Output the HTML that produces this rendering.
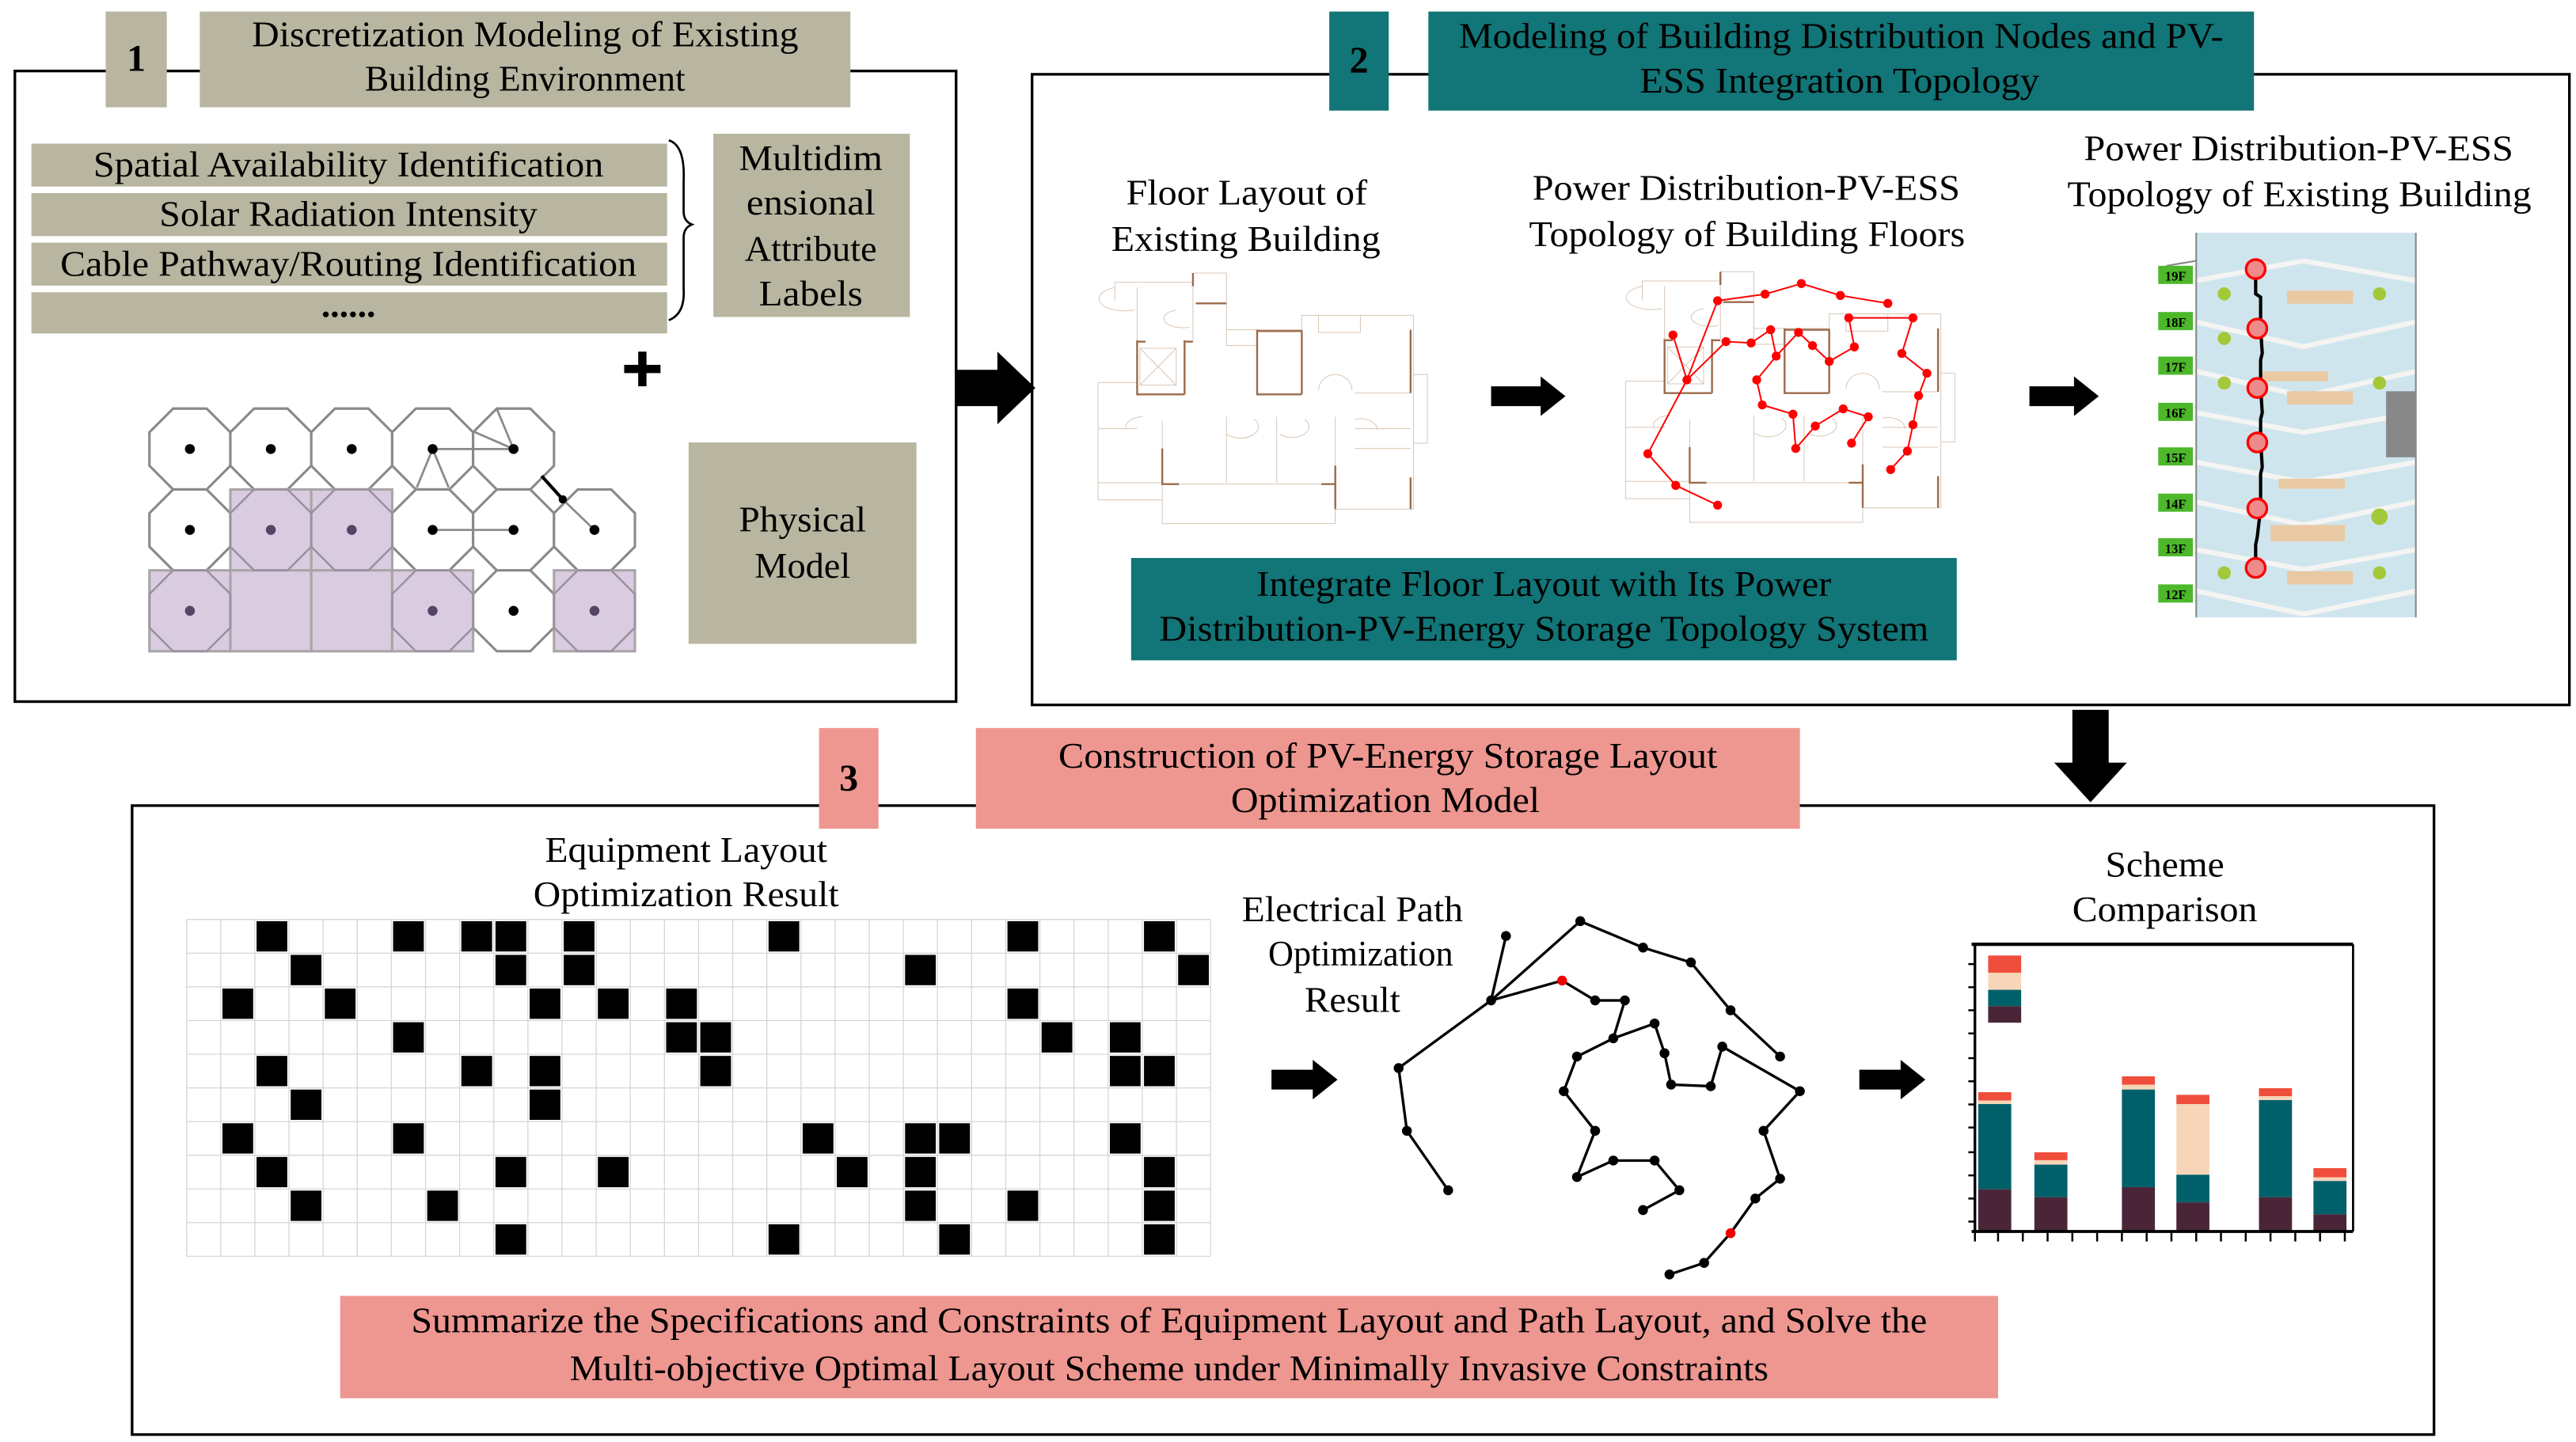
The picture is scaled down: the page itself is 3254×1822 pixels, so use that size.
<!DOCTYPE html>
<html><head><meta charset="utf-8"><style>
html,body{margin:0;padding:0;background:#fff}
svg{display:block}
text{font-family:"Liberation Serif",serif;fill:#000}
</style></head><body>
<svg width="3254" height="1822" viewBox="0 0 1560 873.5" preserveAspectRatio="none" xmlns="http://www.w3.org/2000/svg">
<rect x="0" y="0" width="1560" height="873.5" fill="#fff"/>
<!-- Frames -->
<rect x="9" y="43" width="570" height="382" fill="none" stroke="#000" stroke-width="1.6"/>
<rect x="625" y="45" width="931" height="382" fill="none" stroke="#000" stroke-width="1.6"/>
<rect x="80" y="488" width="1394" height="381" fill="none" stroke="#000" stroke-width="1.6"/>

<!-- Section 1 headers -->
<rect x="64" y="7" width="37" height="58" fill="#b8b6a0"/>
<text x="82.5" y="43" font-size="23" text-anchor="middle" font-weight="bold">1</text>
<rect x="121" y="7" width="394" height="58" fill="#b8b6a0"/>
<g font-size="22" text-anchor="middle">
<text x="318" y="28" textLength="331" lengthAdjust="spacingAndGlyphs">Discretization Modeling of Existing</text>
<text x="318" y="55" textLength="194" lengthAdjust="spacingAndGlyphs">Building Environment</text>
</g>

<g fill="#b8b6a0">
<rect x="19" y="87" width="385" height="26"/>
<rect x="19" y="117" width="385" height="26"/>
<rect x="19" y="147" width="385" height="26"/>
<rect x="19" y="177" width="385" height="25"/>
<rect x="432" y="81" width="119" height="111"/>
<rect x="417" y="268" width="138" height="122"/>
</g>
<g font-size="22" text-anchor="middle">
<text x="211" y="107" textLength="309" lengthAdjust="spacingAndGlyphs">Spatial Availability Identification</text>
<text x="211" y="137" textLength="229" lengthAdjust="spacingAndGlyphs">Solar Radiation Intensity</text>
<text x="211" y="167" textLength="349" lengthAdjust="spacingAndGlyphs">Cable Pathway/Routing Identification</text>
<text x="211" y="192" font-weight="bold">......</text>
<text x="491" y="103" textLength="87" lengthAdjust="spacingAndGlyphs">Multidim</text>
<text x="491" y="130" textLength="78" lengthAdjust="spacingAndGlyphs">ensional</text>
<text x="491" y="158" textLength="80" lengthAdjust="spacingAndGlyphs">Attribute</text>
<text x="491" y="185" textLength="63" lengthAdjust="spacingAndGlyphs">Labels</text>
<text x="486" y="322" textLength="77" lengthAdjust="spacingAndGlyphs">Physical</text>
<text x="486" y="350" textLength="58" lengthAdjust="spacingAndGlyphs">Model</text>
</g>
<path d="M405,85 Q415,88 414,110 L414,128 Q414,134 419,136 Q414,138 414,144 L414,175 Q415,190 405,194" fill="none" stroke="#000" stroke-width="1.3"/>
<rect x="378" y="221" width="22" height="5" fill="#000"/>
<rect x="386.5" y="213" width="5" height="21" fill="#000"/>

<!-- Octagon grid -->
<defs>
<polygon id="oct" points="10.15,-24.5 24.5,-10.15 24.5,10.15 10.15,24.5 -10.15,24.5 -24.5,10.15 -24.5,-10.15 -10.15,-24.5"/>
</defs>
<g fill="#fff" stroke="#8a8a8a" stroke-width="1.5">
<use href="#oct" x="115" y="272"/><use href="#oct" x="164" y="272"/><use href="#oct" x="213" y="272"/><use href="#oct" x="262" y="272"/><use href="#oct" x="311" y="272"/>
<use href="#oct" x="115" y="321"/><use href="#oct" x="262" y="321"/><use href="#oct" x="311" y="321"/><use href="#oct" x="360" y="321"/>
<use href="#oct" x="311" y="370"/>
</g>
<g fill="#d9cce0" stroke="#a8a5a8" stroke-width="1.5">
<rect x="139.5" y="296.5" width="49" height="49"/><rect x="188.5" y="296.5" width="49" height="49"/>
<rect x="90.5" y="345.5" width="49" height="49"/><rect x="139.5" y="345.5" width="49" height="49"/><rect x="188.5" y="345.5" width="49" height="49"/><rect x="237.5" y="345.5" width="49" height="49"/><rect x="335.5" y="345.5" width="49" height="49"/>
</g>
<g fill="none" stroke="#9a90a0" stroke-width="1.2">
<use href="#oct" x="164" y="321"/><use href="#oct" x="213" y="321"/>
<use href="#oct" x="115" y="370"/><use href="#oct" x="262" y="370"/><use href="#oct" x="360" y="370"/>
</g>
<g stroke="#8a8a8a" stroke-width="1.3" fill="none">
<line x1="262" y1="272" x2="311" y2="272"/>
<polyline points="252.4,295.3 262,272 271.7,295.3"/>
<polyline points="300.6,247 311,272 287,261.5"/>
<line x1="262" y1="321" x2="311" y2="321"/>
<line x1="340.8" y1="302.5" x2="360" y2="321"/>
</g>
<line x1="328" y1="288.3" x2="340.8" y2="302.5" stroke="#000" stroke-width="2"/>
<g fill="#000">
<circle cx="115" cy="272" r="3"/><circle cx="164" cy="272" r="3"/><circle cx="213" cy="272" r="3"/><circle cx="262" cy="272" r="3"/><circle cx="311" cy="272" r="3"/>
<circle cx="115" cy="321" r="3"/><circle cx="262" cy="321" r="3"/><circle cx="311" cy="321" r="3"/><circle cx="360" cy="321" r="3"/><circle cx="311" cy="370" r="3"/><circle cx="340.8" cy="302.5" r="2.5"/>
</g>
<g fill="#554466">
<circle cx="164" cy="321" r="3"/><circle cx="213" cy="321" r="3"/><circle cx="115" cy="370" r="3"/><circle cx="262" cy="370" r="3"/><circle cx="360" cy="370" r="3"/>
</g>

<!-- Big right arrow -->
<polygon points="579,224 604,224 604,213 627,235 604,257 604,246 579,246" fill="#000"/>

<!-- Section 2 headers -->
<rect x="805" y="7" width="36" height="60" fill="#127577"/>
<text x="823" y="44" font-size="23" text-anchor="middle" font-weight="bold">2</text>
<rect x="865" y="7" width="500" height="60" fill="#127577"/>
<g font-size="22" text-anchor="middle">
<text x="1115" y="29" textLength="463" lengthAdjust="spacingAndGlyphs">Modeling of Building Distribution Nodes and PV-</text>
<text x="1114" y="56" textLength="242" lengthAdjust="spacingAndGlyphs">ESS Integration Topology</text>
<text x="755" y="124" textLength="146" lengthAdjust="spacingAndGlyphs">Floor Layout of</text>
<text x="754.5" y="152" textLength="163" lengthAdjust="spacingAndGlyphs">Existing Building</text>
<text x="1057.5" y="121" textLength="259" lengthAdjust="spacingAndGlyphs">Power Distribution-PV-ESS</text>
<text x="1058" y="149" textLength="264" lengthAdjust="spacingAndGlyphs">Topology of Building Floors</text>
<text x="1392" y="97" textLength="260" lengthAdjust="spacingAndGlyphs">Power Distribution-PV-ESS</text>
<text x="1392.5" y="125" textLength="281" lengthAdjust="spacingAndGlyphs">Topology of Existing Building</text>
</g>

<!-- Floor plans -->
<defs>
<g id="plan">
<g fill="none" stroke="#d8c6b6" stroke-width="1">
<path vector-effect="non-scaling-stroke" d="M10,460 L80,460 M10,460 L10,905 L125,905 M125,840 L125,995 L435,995 L435,940 L575,940 L575,205 L375,205 L375,260 L240,260 L240,45 L180,45 M180,80 L40,80 L40,150 M80,300 L80,100 M180,95 L180,300 M240,320 L295,320"/>
<path vector-effect="non-scaling-stroke" d="M10,840 L125,840 M435,940 L435,990 M575,430 L600,430 L600,690 L575,690 M405,205 L405,270 L480,270 L480,205 M240,260 L240,320 M165,505 L165,300 M125,605 L125,710 M240,590 L240,840 M330,590 L330,840 M435,590 L435,775 M125,845 L435,845 M470,500 L570,500 M470,635 L570,635 M470,710 L570,710 M10,635 L80,635"/>
<path vector-effect="non-scaling-stroke" d="M40,100 A40,40 0 0 0 75,185 M150,185 A30,30 0 0 0 175,250 M405,490 A30,60 0 0 1 465,490 M60,635 A30,40 0 0 1 90,590 M240,655 A30,40 0 0 0 290,600 M335,655 A30,40 0 0 0 380,600 M470,600 A30,40 0 0 1 510,640"/>
<path vector-effect="non-scaling-stroke" d="M85,330 L150,470 M150,330 L85,470 M85,330 L150,330 L150,470 L85,470 Z"/>
</g>
<g fill="none" stroke="#9b6b4b" stroke-width="2.4">
<path vector-effect="non-scaling-stroke" d="M180,45 L180,95 M185,160 L240,160 M80,300 L80,505 L165,505 M165,300 L165,505 M295,260 L295,505 L375,505 M295,265 L375,265 L375,505 M125,710 L125,845 L155,845 M435,775 L435,940 M570,260 L570,500 M570,820 L570,940 M410,845 L435,845 M80,305 L95,305 M165,305 L180,305"/>
</g>
</g>
</defs>
<g transform="translate(661.6,158.2) scale(0.338,0.1598)"><use href="#plan"/></g>
<g transform="translate(661.6,158.2) scale(0.338,0.1598)">
<g transform="translate(945,-5)"><use href="#plan"/></g>
<g fill="none" stroke="#f00" stroke-width="2" stroke-linejoin="round">
<polyline vector-effect="non-scaling-stroke" points="1120,925 1045,850 995,730 1065,450 1120,150 1205,125 1270,85 1340,130 1425,160"/>
<polyline vector-effect="non-scaling-stroke" points="1040,280 1065,450 1135,305 1180,310 1215,260 1225,360 1265,270 1290,320 1320,380 1365,325 1355,215 1470,215 1450,350 1495,425 1480,510 1470,620 1460,720 1430,790"/>
<polyline vector-effect="non-scaling-stroke" points="1225,360 1190,450 1200,545 1255,580 1260,710 1295,625 1345,560 1390,590 1360,690"/>
</g>
<g fill="#f00">
<ellipse cx="1120" cy="925" rx="8" ry="17"/><ellipse cx="1045" cy="850" rx="8" ry="17"/><ellipse cx="995" cy="730" rx="8" ry="17"/><ellipse cx="1065" cy="450" rx="8" ry="17"/><ellipse cx="1120" cy="150" rx="8" ry="17"/><ellipse cx="1205" cy="125" rx="8" ry="17"/><ellipse cx="1270" cy="85" rx="8" ry="17"/><ellipse cx="1340" cy="130" rx="8" ry="17"/><ellipse cx="1425" cy="160" rx="8" ry="17"/>
<ellipse cx="1040" cy="280" rx="8" ry="17"/><ellipse cx="1135" cy="305" rx="8" ry="17"/><ellipse cx="1180" cy="310" rx="8" ry="17"/><ellipse cx="1215" cy="260" rx="8" ry="17"/><ellipse cx="1225" cy="360" rx="8" ry="17"/><ellipse cx="1265" cy="270" rx="8" ry="17"/><ellipse cx="1290" cy="320" rx="8" ry="17"/><ellipse cx="1320" cy="380" rx="8" ry="17"/><ellipse cx="1365" cy="325" rx="8" ry="17"/><ellipse cx="1355" cy="215" rx="8" ry="17"/><ellipse cx="1470" cy="215" rx="8" ry="17"/><ellipse cx="1450" cy="350" rx="8" ry="17"/><ellipse cx="1495" cy="425" rx="8" ry="17"/><ellipse cx="1480" cy="510" rx="8" ry="17"/><ellipse cx="1470" cy="620" rx="8" ry="17"/><ellipse cx="1460" cy="720" rx="8" ry="17"/><ellipse cx="1430" cy="790" rx="8" ry="17"/>
<ellipse cx="1190" cy="450" rx="8" ry="17"/><ellipse cx="1200" cy="545" rx="8" ry="17"/><ellipse cx="1255" cy="580" rx="8" ry="17"/><ellipse cx="1260" cy="710" rx="8" ry="17"/><ellipse cx="1295" cy="625" rx="8" ry="17"/><ellipse cx="1345" cy="560" rx="8" ry="17"/><ellipse cx="1390" cy="590" rx="8" ry="17"/><ellipse cx="1360" cy="690" rx="8" ry="17"/>
</g>
</g>
<polygon points="903,234 933,234 933,228 948,240 933,252 933,246 903,246" fill="#000"/>
<polygon points="1229,234 1256,234 1256,228 1271,240 1256,252 1256,246 1229,246" fill="#000"/>

<!-- Building -->
<rect x="1330" y="141" width="133" height="233" fill="#cfe5ee"/>
<g stroke="#f4f4f2" stroke-width="3" fill="none">
<polyline points="1330,170 1395,158 1463,170"/>
<polyline points="1330,195 1395,210 1463,195"/>
<polyline points="1330,225 1395,240 1463,225"/>
<polyline points="1330,250 1395,262 1463,250"/>
<polyline points="1330,280 1395,292 1463,280"/>
<polyline points="1330,304 1395,318 1463,304"/>
<polyline points="1330,333 1395,345 1463,333"/>
<polyline points="1330,358 1395,372 1463,358"/>
</g>
<g fill="#e9c9a3">
<rect x="1385" y="176" width="40" height="8"/><rect x="1370" y="225" width="40" height="6"/><rect x="1385" y="237" width="40" height="8"/><rect x="1380" y="290" width="40" height="6"/><rect x="1375" y="318" width="45" height="10"/><rect x="1385" y="346" width="40" height="8"/>
</g>
<rect x="1445" y="237" width="18" height="40" fill="#888"/>
<g fill="#a3c93a"><circle cx="1347" cy="178" r="4"/><circle cx="1441" cy="178" r="4"/><circle cx="1347" cy="205" r="4"/><circle cx="1347" cy="232" r="4"/><circle cx="1441" cy="232" r="4"/><circle cx="1441" cy="313" r="5"/><circle cx="1347" cy="347" r="4"/><circle cx="1441" cy="347" r="4"/></g>
<line x1="1330" y1="141" x2="1330" y2="374" stroke="#888" stroke-width="1"/>
<line x1="1463" y1="141" x2="1463" y2="374" stroke="#888" stroke-width="1"/>
<line x1="1312" y1="161" x2="1330" y2="158" stroke="#888" stroke-width="1"/>
<g fill="#4cb82a">
<rect x="1307" y="161" width="21" height="11"/><rect x="1307" y="189" width="21" height="11"/><rect x="1307" y="216" width="21" height="11"/><rect x="1307" y="244" width="21" height="11"/><rect x="1307" y="271" width="21" height="11"/><rect x="1307" y="299" width="21" height="11"/><rect x="1307" y="326" width="21" height="11"/><rect x="1307" y="354" width="21" height="11"/>
</g>
<g font-size="8" text-anchor="middle" font-weight="bold" style="font-family:'Liberation Sans',sans-serif">
<text x="1317.5" y="170" fill="#fff">19F</text><text x="1317.5" y="198" fill="#fff">18F</text><text x="1317.5" y="225" fill="#fff">17F</text><text x="1317.5" y="253" fill="#fff">16F</text><text x="1317.5" y="280" fill="#fff">15F</text><text x="1317.5" y="308" fill="#fff">14F</text><text x="1317.5" y="335" fill="#fff">13F</text><text x="1317.5" y="363" fill="#fff">12F</text>
</g>
<polyline points="1366,163 1366,178 1369,180 1369,199 1370,214 1369,218 1369,235 1370,250 1369,254 1369,267 1370,283 1369,287 1369,308 1367,325 1366,330 1366,344" fill="none" stroke="#000" stroke-width="2"/>
<g fill="#ef8a8a" stroke="#f00" stroke-width="1.6">
<circle cx="1366" cy="163" r="5.8"/><circle cx="1367" cy="199" r="5.8"/><circle cx="1367" cy="235" r="5.8"/><circle cx="1367" cy="268" r="5.8"/><circle cx="1367" cy="308" r="5.8"/><circle cx="1366" cy="344" r="5.8"/>
</g>

<rect x="685" y="338" width="500" height="62" fill="#127577"/>
<text x="935" y="361" font-size="22" text-anchor="middle" textLength="348" lengthAdjust="spacingAndGlyphs">Integrate Floor Layout with Its Power</text>
<text x="935" y="388" font-size="22" text-anchor="middle" textLength="466" lengthAdjust="spacingAndGlyphs">Distribution-PV-Energy Storage Topology System</text>

<!-- Down arrow -->
<polygon points="1255,430 1277,430 1277,462 1288,462 1266,486 1244,462 1255,462" fill="#000"/>

<!-- Section 3 headers -->
<rect x="496" y="441" width="36" height="61" fill="#ee9690"/>
<text x="514" y="479" font-size="23" text-anchor="middle" font-weight="bold">3</text>
<rect x="591" y="441" width="499" height="61" fill="#ee9690"/>
<g font-size="22" text-anchor="middle">
<text x="840.5" y="465" textLength="399" lengthAdjust="spacingAndGlyphs">Construction of PV-Energy Storage Layout</text>
<text x="839" y="492" textLength="187" lengthAdjust="spacingAndGlyphs">Optimization Model</text>
<text x="415.5" y="522" textLength="171" lengthAdjust="spacingAndGlyphs">Equipment Layout</text>
<text x="415.5" y="549" textLength="185" lengthAdjust="spacingAndGlyphs">Optimization Result</text>
<text x="819" y="558" textLength="134" lengthAdjust="spacingAndGlyphs">Electrical Path</text>
<text x="824" y="585" textLength="112" lengthAdjust="spacingAndGlyphs">Optimization</text>
<text x="819" y="613" textLength="58" lengthAdjust="spacingAndGlyphs">Result</text>
<text x="1311" y="531" textLength="72" lengthAdjust="spacingAndGlyphs">Scheme</text>
<text x="1311" y="558" textLength="112" lengthAdjust="spacingAndGlyphs">Comparison</text>
</g>

<!-- Equipment grid -->
<g transform="translate(113,557) scale(20.67,20.4)">
<rect x="0" y="0" width="30" height="10" fill="#fff"/>
<g fill="#000">
<rect x="2.05" y="0.05" width="0.9" height="0.9"/><rect x="6.05" y="0.05" width="0.9" height="0.9"/><rect x="8.05" y="0.05" width="0.9" height="0.9"/><rect x="9.05" y="0.05" width="0.9" height="0.9"/><rect x="11.05" y="0.05" width="0.9" height="0.9"/><rect x="17.05" y="0.05" width="0.9" height="0.9"/><rect x="24.05" y="0.05" width="0.9" height="0.9"/><rect x="28.05" y="0.05" width="0.9" height="0.9"/>
<rect x="3.05" y="1.05" width="0.9" height="0.9"/><rect x="9.05" y="1.05" width="0.9" height="0.9"/><rect x="11.05" y="1.05" width="0.9" height="0.9"/><rect x="21.05" y="1.05" width="0.9" height="0.9"/><rect x="29.05" y="1.05" width="0.9" height="0.9"/>
<rect x="1.05" y="2.05" width="0.9" height="0.9"/><rect x="4.05" y="2.05" width="0.9" height="0.9"/><rect x="10.05" y="2.05" width="0.9" height="0.9"/><rect x="12.05" y="2.05" width="0.9" height="0.9"/><rect x="14.05" y="2.05" width="0.9" height="0.9"/><rect x="24.05" y="2.05" width="0.9" height="0.9"/>
<rect x="6.05" y="3.05" width="0.9" height="0.9"/><rect x="14.05" y="3.05" width="0.9" height="0.9"/><rect x="15.05" y="3.05" width="0.9" height="0.9"/><rect x="25.05" y="3.05" width="0.9" height="0.9"/><rect x="27.05" y="3.05" width="0.9" height="0.9"/>
<rect x="2.05" y="4.05" width="0.9" height="0.9"/><rect x="8.05" y="4.05" width="0.9" height="0.9"/><rect x="10.05" y="4.05" width="0.9" height="0.9"/><rect x="15.05" y="4.05" width="0.9" height="0.9"/><rect x="27.05" y="4.05" width="0.9" height="0.9"/><rect x="28.05" y="4.05" width="0.9" height="0.9"/>
<rect x="3.05" y="5.05" width="0.9" height="0.9"/><rect x="10.05" y="5.05" width="0.9" height="0.9"/>
<rect x="1.05" y="6.05" width="0.9" height="0.9"/><rect x="6.05" y="6.05" width="0.9" height="0.9"/><rect x="18.05" y="6.05" width="0.9" height="0.9"/><rect x="21.05" y="6.05" width="0.9" height="0.9"/><rect x="22.05" y="6.05" width="0.9" height="0.9"/><rect x="27.05" y="6.05" width="0.9" height="0.9"/>
<rect x="2.05" y="7.05" width="0.9" height="0.9"/><rect x="9.05" y="7.05" width="0.9" height="0.9"/><rect x="12.05" y="7.05" width="0.9" height="0.9"/><rect x="19.05" y="7.05" width="0.9" height="0.9"/><rect x="21.05" y="7.05" width="0.9" height="0.9"/><rect x="28.05" y="7.05" width="0.9" height="0.9"/>
<rect x="3.05" y="8.05" width="0.9" height="0.9"/><rect x="7.05" y="8.05" width="0.9" height="0.9"/><rect x="21.05" y="8.05" width="0.9" height="0.9"/><rect x="24.05" y="8.05" width="0.9" height="0.9"/><rect x="28.05" y="8.05" width="0.9" height="0.9"/>
<rect x="9.05" y="9.05" width="0.9" height="0.9"/><rect x="17.05" y="9.05" width="0.9" height="0.9"/><rect x="22.05" y="9.05" width="0.9" height="0.9"/><rect x="28.05" y="9.05" width="0.9" height="0.9"/>
</g>
<g stroke="#d6d6d6" stroke-width="1.3" fill="none">
<path vector-effect="non-scaling-stroke" d="M0,0H30M0,1H30M0,2H30M0,3H30M0,4H30M0,5H30M0,6H30M0,7H30M0,8H30M0,9H30M0,10H30"/>
<path vector-effect="non-scaling-stroke" d="M0,0V10M1,0V10M2,0V10M3,0V10M4,0V10M5,0V10M6,0V10M7,0V10M8,0V10M9,0V10M10,0V10M11,0V10M12,0V10M13,0V10M14,0V10M15,0V10M16,0V10M17,0V10M18,0V10M19,0V10M20,0V10M21,0V10M22,0V10M23,0V10M24,0V10M25,0V10M26,0V10M27,0V10M28,0V10M29,0V10M30,0V10"/>
</g>
</g>

<polygon points="770,648 795,648 795,642 810,654 795,666 795,660 770,660" fill="#000"/>
<polygon points="1126,648 1151,648 1151,642 1166,654 1151,666 1151,660 1126,660" fill="#000"/>

<!-- Path graph -->
<g stroke="#000" stroke-width="1.6" fill="none">
<polyline points="912,567 903,606"/>
<polyline points="903,606 957,558 995,574 1024,583 1048,612 1078,640"/>
<polyline points="903,606 946,594 966,606 984,606 977,629 1002,620 1008,638 1012,657 1036,658 1043,634 1090,661 1068,685 1078,714 1063,726 1048,747 1032,765 1011,772"/>
<polyline points="977,629 955,640 947,661 966,685 955,713 977,703 1002,703 1017,721 995,733"/>
<polyline points="903,606 847,647 852,685 877,721"/>
</g>
<g fill="#000">
<circle cx="957" cy="558" r="3"/><circle cx="912" cy="567" r="3"/><circle cx="903" cy="606" r="3"/><circle cx="966" cy="606" r="3"/><circle cx="984" cy="606" r="3"/><circle cx="995" cy="574" r="3"/><circle cx="1024" cy="583" r="3"/><circle cx="1048" cy="612" r="3"/><circle cx="1078" cy="640" r="3"/><circle cx="1002" cy="620" r="3"/><circle cx="977" cy="629" r="3"/><circle cx="955" cy="640" r="3"/><circle cx="1008" cy="638" r="3"/><circle cx="1012" cy="657" r="3"/><circle cx="1036" cy="658" r="3"/><circle cx="1043" cy="634" r="3"/><circle cx="1090" cy="661" r="3"/><circle cx="947" cy="661" r="3"/><circle cx="966" cy="685" r="3"/><circle cx="955" cy="713" r="3"/><circle cx="977" cy="703" r="3"/><circle cx="1002" cy="703" r="3"/><circle cx="1017" cy="721" r="3"/><circle cx="995" cy="733" r="3"/><circle cx="1068" cy="685" r="3"/><circle cx="1078" cy="714" r="3"/><circle cx="1063" cy="726" r="3"/><circle cx="1032" cy="765" r="3"/><circle cx="1011" cy="772" r="3"/><circle cx="847" cy="647" r="3"/><circle cx="852" cy="685" r="3"/><circle cx="877" cy="721" r="3"/>
</g>
<circle cx="946" cy="594" r="3" fill="#e00"/><circle cx="1048" cy="747" r="3" fill="#e00"/>

<!-- Chart -->
<g>
<rect x="1204" y="578.8" width="20" height="10.4" fill="#f04e3c"/><rect x="1204" y="589.2" width="20" height="10.4" fill="#f6d5b8"/><rect x="1204" y="599.6" width="20" height="9.9" fill="#00606a"/><rect x="1204" y="609.5" width="20" height="10" fill="#4a2538"/>
<rect x="1198" y="661.6" width="20" height="5.1" fill="#f04e3c"/><rect x="1198" y="666.7" width="20" height="2.1" fill="#f6d5b8"/><rect x="1198" y="668.8" width="20" height="51.6" fill="#00606a"/><rect x="1198" y="720.4" width="20" height="25.1" fill="#4a2538"/>
<rect x="1232" y="698" width="20" height="4.8" fill="#f04e3c"/><rect x="1232" y="702.8" width="20" height="2.7" fill="#f6d5b8"/><rect x="1232" y="705.5" width="20" height="19.7" fill="#00606a"/><rect x="1232" y="725.2" width="20" height="20.3" fill="#4a2538"/>
<rect x="1285" y="652" width="20" height="5.1" fill="#f04e3c"/><rect x="1285" y="657.1" width="20" height="2.9" fill="#f6d5b8"/><rect x="1285" y="660" width="20" height="59.1" fill="#00606a"/><rect x="1285" y="719.1" width="20" height="26.4" fill="#4a2538"/>
<rect x="1318" y="663.2" width="20" height="5.6" fill="#f04e3c"/><rect x="1318" y="668.8" width="20" height="42.8" fill="#f6d5b8"/><rect x="1318" y="711.6" width="20" height="16.8" fill="#00606a"/><rect x="1318" y="728.4" width="20" height="17.1" fill="#4a2538"/>
<rect x="1368" y="659.2" width="20" height="4.8" fill="#f04e3c"/><rect x="1368" y="664" width="20" height="2.4" fill="#f6d5b8"/><rect x="1368" y="666.4" width="20" height="58.8" fill="#00606a"/><rect x="1368" y="725.2" width="20" height="20.3" fill="#4a2538"/>
<rect x="1401" y="707.6" width="20" height="5.6" fill="#f04e3c"/><rect x="1401" y="713.2" width="20" height="2.2" fill="#f6d5b8"/><rect x="1401" y="715.4" width="20" height="20.2" fill="#00606a"/><rect x="1401" y="735.6" width="20" height="9.9" fill="#4a2538"/>
</g>
<g stroke="#000" fill="none">
<line x1="1194" y1="572" x2="1425" y2="572" stroke-width="2"/>
<line x1="1196" y1="572" x2="1196" y2="746" stroke-width="1.6"/>
<line x1="1425" y1="572" x2="1425" y2="746" stroke-width="1.3"/>
<line x1="1194" y1="746" x2="1425" y2="746" stroke-width="1.8"/>
<path stroke-width="1.2" d="M1192,584H1196M1192,598H1196M1192,612H1196M1192,626H1196M1192,641H1196M1192,655H1196M1192,669H1196M1192,683H1196M1192,698H1196M1192,712H1196M1192,726H1196M1192,740H1196"/>
<path stroke-width="1.2" d="M1196,746V752M1210,746V752M1225,746V752M1240,746V752M1255,746V752M1270,746V752M1285,746V752M1300,746V752M1315,746V752M1330,746V752M1345,746V752M1360,746V752M1375,746V752M1390,746V752M1405,746V752M1420,746V752"/>
</g>

<!-- Bottom pink box -->
<rect x="206" y="785" width="1004" height="62" fill="#ee9690"/>
<text x="708" y="807" font-size="22" text-anchor="middle" textLength="918" lengthAdjust="spacingAndGlyphs">Summarize the Specifications and Constraints of Equipment Layout and Path Layout, and Solve the</text>
<text x="708" y="836" font-size="22" text-anchor="middle" textLength="726" lengthAdjust="spacingAndGlyphs">Multi-objective Optimal Layout Scheme under Minimally Invasive Constraints</text>
</svg>
</body></html>
